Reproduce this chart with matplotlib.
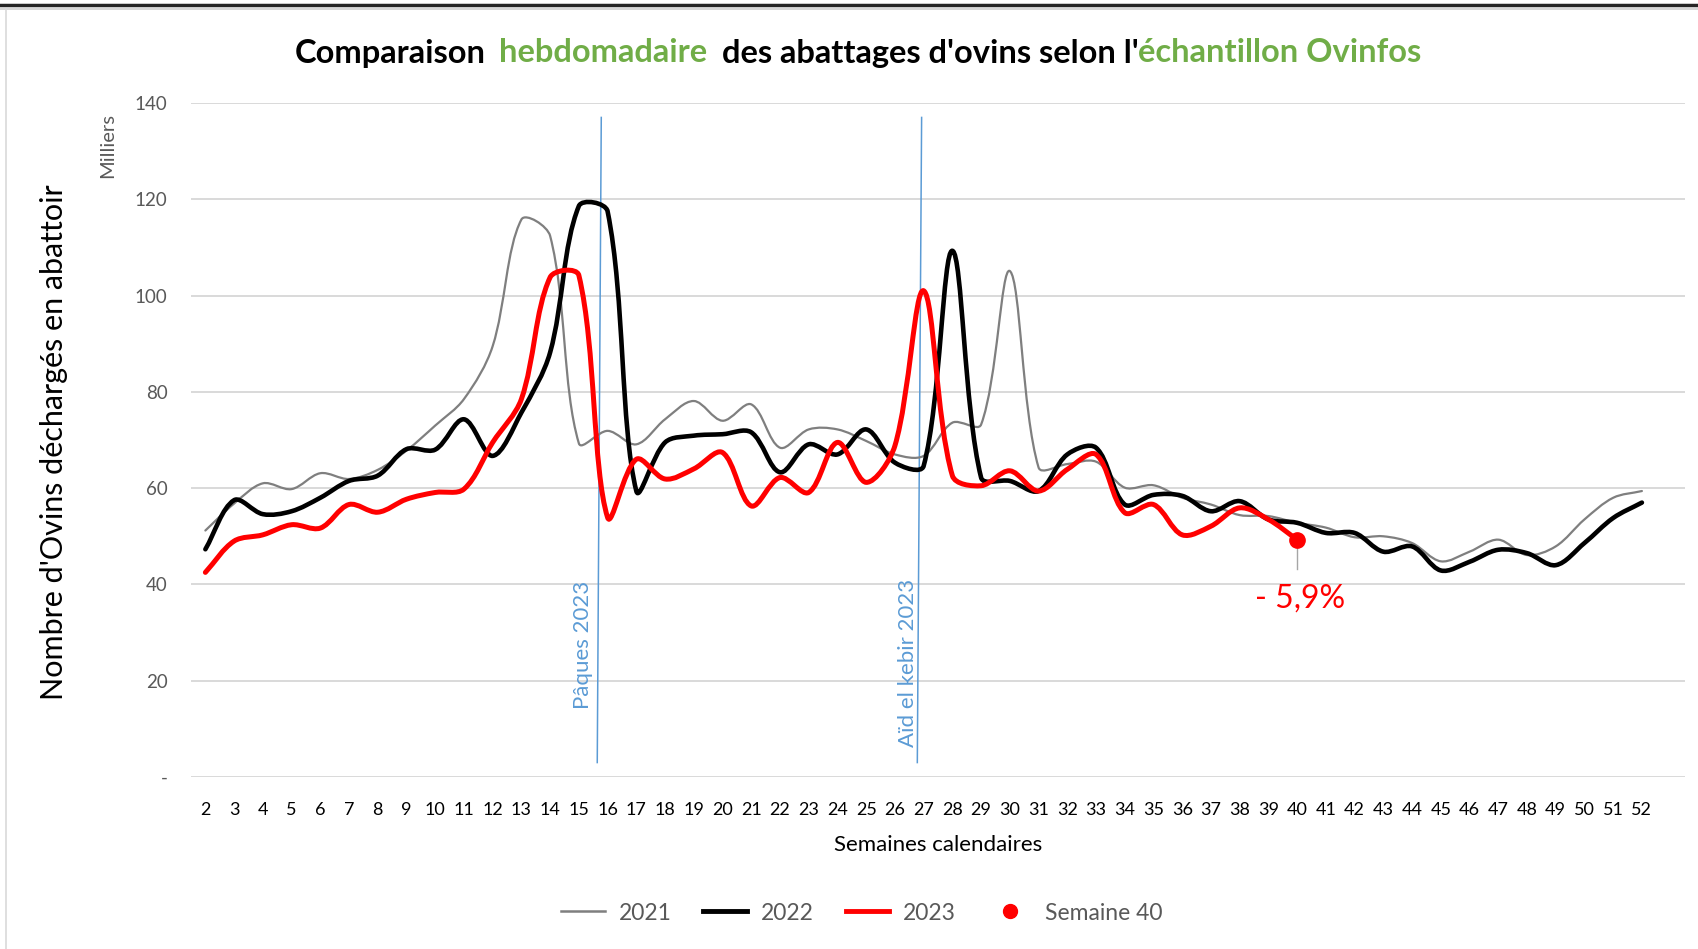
import numpy as np
import matplotlib
matplotlib.use("Agg")
import matplotlib.pyplot as plt
from matplotlib.path import Path
from matplotlib.patches import PathPatch
from matplotlib.lines import Line2D

# ---------------- data ----------------
weeks = list(range(2, 53))
week_labels = [str(w) for w in weeks]

y_2021 = [51.2, 56.8, 61.0, 59.8, 63.1, 61.9, 63.8, 67.8, 73.0, 78.5,
          89.5, 115.8, 112.4, 69.3, 71.9, 69.1, 74.3, 78.1, 74.0, 77.4,
          68.4, 72.2, 72.2, 69.8, 67.0, 66.7, 73.6, 73.2, 105.1, 64.3,
          65.0, 65.5, 60.1, 60.6, 58.0, 56.6, 54.4, 54.2, 52.8, 51.8,
          49.8, 50.0, 48.6, 44.8, 46.8, 49.3, 46.1, 47.9, 53.5, 58.0, 59.4]

y_2022 = [47.3, 57.5, 54.6, 55.2, 58.0, 61.5, 62.6, 68.1, 68.0, 74.3,
          66.7, 75.7, 88.2, 118.6, 117.5, 59.4, 69.5, 70.9, 71.2, 71.6,
          63.3, 69.1, 67.0, 72.2, 65.3, 64.6, 109.3, 62.2, 61.5, 59.4,
          67.0, 68.4, 56.6, 58.6, 58.4, 55.2, 57.3, 53.5, 52.8, 50.7,
          50.7, 46.8, 47.9, 42.9, 44.7, 47.2, 46.5, 44.0, 48.6, 53.8, 57.0]

weeks_2023 = list(range(2, 41))
y_2023 = [42.5, 49.0, 50.3, 52.4, 51.7, 56.6, 55.0, 57.7, 59.1, 59.8,
          69.5, 78.5, 103.8, 104.2, 53.9, 66.0, 61.9, 64.0, 67.4, 56.3,
          62.2, 59.1, 69.5, 61.2, 68.8, 101.0, 62.6, 60.5, 63.6, 59.4,
          63.9, 67.0, 54.9, 56.6, 50.3, 52.1, 55.9, 53.5, 49.3]

highlight_week = 40
highlight_value = 49.3
highlight_label = "- 5,9%"

y_ticks = [0, 20, 40, 60, 80, 100, 120, 140]
y_tick_labels = ["-", "20", "40", "60", "80", "100", "120", "140"]

event_labels = ["Pâques 2023", "Aïd el kebir 2023"]
event_weeks_top = [15.78, 26.93]
event_weeks_bottom = [15.64, 26.78]

series_names = ["2021", "2022", "2023", "Semaine 40"]

# ---------------- style ----------------
FONT = "Lato"
plt.rcParams["font.family"] = [FONT, "DejaVu Sans"]
GREEN = "#70AD47"
BLUE = "#5B9BD5"
GRAY_TXT = "#595959"
C2021, C2022, C2023 = "#7F7F7F", "#000000", "#FF0000"

W, H = 1698, 949
fig = plt.figure(figsize=(W / 100, H / 100), dpi=100)
fig.patch.set_facecolor("white")

ax = fig.add_axes([191 / W, 1 - 777 / H, (1685 - 191) / W, (777 - 103) / H])
ax.set_xlim(1.5, 53.5)
ax.set_ylim(0, 140)
for s in ax.spines.values():
    s.set_visible(False)
ax.set_yticks(y_ticks)
ax.set_yticklabels(y_tick_labels)
ax.set_xticks(weeks)
ax.set_xticklabels(week_labels)
ax.tick_params(axis="y", length=0, pad=17, labelsize=13.5, labelcolor=GRAY_TXT)
ax.tick_params(axis="x", length=0, pad=18, labelsize=13, labelcolor="black")
ax.grid(axis="y", color="#D9D9D9", lw=1.4)
ax.set_axisbelow(True)


def smooth_path(xs, ys, s=1 / 3):
    """Excel-like smoothed line: cubic Bezier built in display space."""
    pts = ax.transData.transform(np.column_stack([xs, ys]))
    n = len(pts)
    verts = [pts[0]]
    codes = [Path.MOVETO]
    for i in range(n - 1):
        p0 = pts[i - 1] if i > 0 else pts[i]
        p1 = pts[i]
        p2 = pts[i + 1]
        p3 = pts[i + 2] if i + 2 < n else pts[i + 1]
        d01 = np.hypot(*(p1 - p0))
        d12 = np.hypot(*(p2 - p1))
        d23 = np.hypot(*(p3 - p2))
        f1 = d12 / (d01 + d12) if (d01 + d12) > 0 else 0.5
        f2 = d12 / (d12 + d23) if (d12 + d23) > 0 else 0.5
        c1 = p1 + (p2 - p0) * s * f1
        c2 = p2 - (p3 - p1) * s * f2
        verts += [c1, c2, p2]
        codes += [Path.CURVE4] * 3
    verts = ax.transData.inverted().transform(np.array(verts))
    return Path(verts, codes)


for xs, ys, col, lw, z in [(weeks, y_2021, C2021, 1.6, 3),
                           (weeks, y_2022, C2022, 3.3, 4),
                           (weeks_2023, y_2023, C2023, 3.6, 5)]:
    ax.add_patch(PathPatch(smooth_path(xs, ys), fill=False, edgecolor=col,
                           lw=lw, capstyle="round", joinstyle="round", zorder=z))

# event lines and labels
label_bottoms = [14.1, 6.2]
label_dx = [-0.5, -0.33]
for lab, xt, xb, yb, dx in zip(event_labels, event_weeks_top,
                               event_weeks_bottom, label_bottoms, label_dx):
    ax.plot([xb, xt], [3.0, 137.0], color=BLUE, lw=1.1, zorder=2)
    ax.text(xb + dx, yb, lab, rotation=90, ha="center", va="bottom",
            color=BLUE, fontsize=16, zorder=6)

# highlight point and annotation
ax.plot([highlight_week, highlight_week], [highlight_value, 43.3],
        color="#A6A6A6", lw=1.0, zorder=5)
ax.plot([highlight_week], [highlight_value], "o", color=C2023, ms=11, zorder=6)
ax.text(highlight_week + 0.1, 37.0, highlight_label, color=C2023, fontsize=23,
        ha="center", va="center", zorder=6)

# axis titles
fig.text(54 / W, 1 - 442 / H, "Nombre d'Ovins déchargés en abattoir",
         rotation=90, ha="center", va="center", fontsize=22, color="black")
fig.text(108 / W, 1 - 146 / H, "Milliers", rotation=90, ha="center",
         va="center", fontsize=14.5, color=GRAY_TXT)
fig.text(938 / W, 1 - 845 / H, "Semaines calendaires", ha="center",
         va="center", fontsize=16, color="black")

# title in coloured pieces
pieces = [("Comparaison", "black"), ("hebdomadaire", GREEN),
          ("des abattages d'ovins selon l'", "black"),
          ("échantillon Ovinfos", GREEN)]
gaps_after = [1.8, 1.8, 0.0, 0.0]
tsize = 23.5
renderer = fig.canvas.get_renderer()
texts = []
for txt, col in pieces:
    t = fig.text(0, 1 - 53 / H, txt, color=col, fontsize=tsize,
                 fontweight="bold", ha="left", va="center")
    texts.append(t)
probe_a = fig.text(0, 0, "xx", fontsize=tsize, fontweight="bold")
probe_b = fig.text(0, 0, "x x", fontsize=tsize, fontweight="bold")
space_w = (probe_b.get_window_extent(renderer).width
           - probe_a.get_window_extent(renderer).width)
probe_a.remove()
probe_b.remove()
widths = [t.get_window_extent(renderer).width for t in texts]
total = sum(widths) + sum(g * space_w for g in gaps_after)
x = 858 - total / 2
for t, w, g in zip(texts, widths, gaps_after):
    t.set_x(x / W)
    x += w + g * space_w

# legend
handles = [Line2D([], [], color=C2021, lw=1.8),
           Line2D([], [], color=C2022, lw=3.5),
           Line2D([], [], color=C2023, lw=3.5),
           Line2D([], [], color=C2023, lw=0, marker="o", ms=10)]
leg = fig.legend(handles, series_names, loc="center",
                 bbox_to_anchor=(862 / W, 1 - 913 / H), ncol=4, frameon=False,
                 fontsize=16.5, handlelength=1.9, columnspacing=1.4,
                 handletextpad=0.6)
for t in leg.get_texts():
    t.set_color(GRAY_TXT)

# page borders
fig.add_artist(Line2D([0, 1], [1 - 5 / H, 1 - 5 / H], color="#262626", lw=2.5,
                      transform=fig.transFigure))
fig.add_artist(Line2D([0, 1], [1 - 9 / H, 1 - 9 / H], color="#D0D0D0", lw=1.2,
                      transform=fig.transFigure))
fig.add_artist(Line2D([6 / W, 6 / W], [0, 1 - 9 / H], color="#D9D9D9", lw=1.2,
                      transform=fig.transFigure))

fig.savefig("out.png", dpi=100, facecolor="white")
